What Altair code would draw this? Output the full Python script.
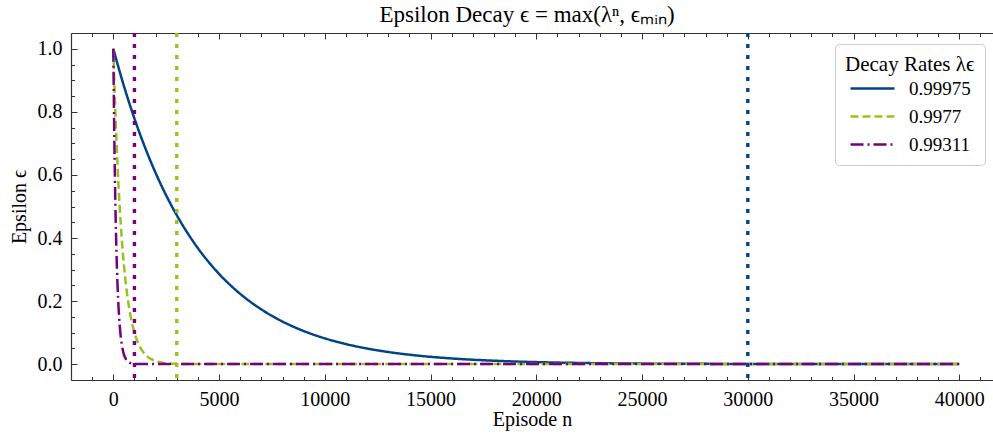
import altair as alt
import pandas as pd

# ---- data ----
rates = ["0.99975", "0.9977", "0.99311"]
colors = ["#004488", "#99C21C", "#77007F"]
dashes = [[1, 0], [8, 4], [13, 4, 2, 4]]

n_blue = [0, 500, 1000, 1500, 2000, 2500, 3000, 4000, 5000, 6000, 7000, 8000, 9000,
          10000, 11000, 12000, 13000, 14000, 16000, 18000, 20000, 22000, 25000,
          30000, 35000, 40000]
eps_blue = [1.0, 0.8825, 0.7788, 0.6873, 0.6065, 0.5353, 0.4724, 0.3679, 0.2865,
            0.2231, 0.1738, 0.1353, 0.1054, 0.0821, 0.0639, 0.0498, 0.0388, 0.0302,
            0.0183, 0.0111, 0.0067, 0.0041, 0.0019, 0.001, 0.001, 0.001]

n_green = [0, 100, 200, 300, 400, 500, 600, 700, 800, 1000, 1200, 1400, 1600, 1800,
           2000, 2400, 3000, 40000]
eps_green = [1.0, 0.794, 0.631, 0.501, 0.398, 0.316, 0.251, 0.200, 0.159, 0.100,
             0.063, 0.040, 0.025, 0.016, 0.010, 0.004, 0.001, 0.001]

n_purple = [0, 50, 100, 150, 200, 250, 300, 350, 400, 500, 600, 700, 800, 1000, 40000]
eps_purple = [1.0, 0.708, 0.501, 0.355, 0.251, 0.178, 0.126, 0.089, 0.063, 0.0315,
              0.0158, 0.0079, 0.0040, 0.001, 0.001]

vline_n = [30000, 3000, 1000]

x_major = [0, 5000, 10000, 15000, 20000, 25000, 30000, 35000, 40000]
x_minor = [-1000] + [v for v in range(1000, 42000, 1000) if v % 5000 != 0]
y_major = [0.0, 0.2, 0.4, 0.6, 0.8, 1.0]
y_minor = [0.05, 0.1, 0.15, 0.25, 0.3, 0.35, 0.45, 0.5, 0.55, 0.65, 0.7, 0.75,
           0.85, 0.9, 0.95]

# ---- tables ----
rows = []
for r, ns, es in [(rates[0], n_blue, eps_blue), (rates[1], n_green, eps_green),
                  (rates[2], n_purple, eps_purple)]:
    for n, e in zip(ns, es):
        rows.append({"n": n, "eps": e, "rate": r})
df_lines = pd.DataFrame(rows)
df_v = pd.DataFrame({"n": vline_n, "rate": rates})

FONT = "Liberation Serif"
AXC = "#333333"
xs = alt.Scale(domain=[-2000, 41593], nice=False, zero=False)
ys = alt.Scale(domain=[-0.05, 1.05], nice=False, zero=False)
cs = alt.Scale(domain=rates, range=colors)
ds = alt.Scale(domain=rates, range=dashes)

leg = alt.Legend(
    title="Decay Rates λϵ", orient="none", legendX=764, legendY=11,
    symbolType="M-2,0L2,0", symbolSize=484, symbolStrokeWidth=2.4,
    symbolOffset=15,
    fillColor="white", strokeColor="#cccccc", cornerRadius=4, padding=10,
    titleFont=FONT, titleFontSize=21, titleFontWeight="normal", titleColor="black",
    labelFont=FONT, labelFontSize=19, labelColor="black", labelOffset=24,
    rowPadding=5, titlePadding=1,
)


def tick_axis(orient, values, size):
    return alt.Axis(orient=orient, values=values, labels=False, domain=False,
                    ticks=True, tickSize=size, offset=-size, grid=False, title=None,
                    tickColor=AXC, tickWidth=1)


lines = alt.Chart(df_lines).mark_line(strokeWidth=2.5, interpolate="monotone").encode(
    x=alt.X("n:Q", scale=xs, axis=alt.Axis(
        orient="bottom", values=x_major, format="d", ticks=False, domain=True,
        domainColor=AXC, domainWidth=1.2, grid=False, title="Episode n",
        labelPadding=9, titlePadding=0)),
    y=alt.Y("eps:Q", scale=ys, axis=alt.Axis(
        orient="left", values=y_major, format=".1f", ticks=False, domain=True,
        domainColor=AXC, domainWidth=1.2, grid=False, title="Epsilon ϵ",
        labelPadding=9, titlePadding=8)),
    color=alt.Color("rate:N", scale=cs, legend=leg),
    strokeDash=alt.StrokeDash("rate:N", scale=ds, legend=leg),
)

vlines = alt.Chart(df_v).mark_rule(strokeWidth=3.4, strokeDash=[4, 7]).encode(
    x=alt.X("n:Q", scale=xs, axis=tick_axis("bottom", x_major, 6)),
    color=alt.Color("rate:N", scale=cs, legend=None),
)

ghost = alt.Chart(df_lines).mark_point(opacity=0)

t_bmin_lmaj = ghost.encode(
    x=alt.X("n:Q", scale=xs, axis=tick_axis("bottom", x_minor, 3.5)),
    y=alt.Y("eps:Q", scale=ys, axis=tick_axis("left", y_major, 6)),
)
t_top_lmin = ghost.encode(
    x=alt.X("n:Q", scale=xs, axis=alt.Axis(
        orient="top", labels=False, ticks=False, domain=True, domainColor=AXC,
        domainWidth=1.2, grid=False, title=None)),
    y=alt.Y("eps:Q", scale=ys, axis=tick_axis("left", y_minor, 3.5)),
)
t_tmaj = ghost.encode(
    x=alt.X("n:Q", scale=xs, axis=tick_axis("top", x_major, 6)),
    y=alt.Y("eps:Q", scale=ys, axis=None),
)
t_tmin = ghost.encode(
    x=alt.X("n:Q", scale=xs, axis=tick_axis("top", x_minor, 3.5)),
    y=alt.Y("eps:Q", scale=ys, axis=None),
)

chart = alt.layer(
    lines, vlines, t_bmin_lmaj, t_top_lmin, t_tmaj, t_tmin
).resolve_axis(x="independent", y="independent").properties(
    width=922, height=347,
    autosize=alt.AutoSizeParams(type="none"),
    padding={"left": 71, "top": 33, "right": 0, "bottom": 61},
    title=alt.TitleParams("Epsilon Decay ϵ = max(λⁿ, ϵₘᵢₙ)", font=FONT, fontSize=23,
                          fontWeight="normal", color="black", offset=4, dx=-5,
                          anchor="middle"),
).configure_view(stroke=None).configure_axis(
    labelFont=FONT, labelFontSize=20, labelColor="black",
    titleFont=FONT, titleFontSize=20, titleFontWeight="normal", titleColor="black",
)

chart.save("out.html", embed_options={"renderer": "svg", "actions": False})
